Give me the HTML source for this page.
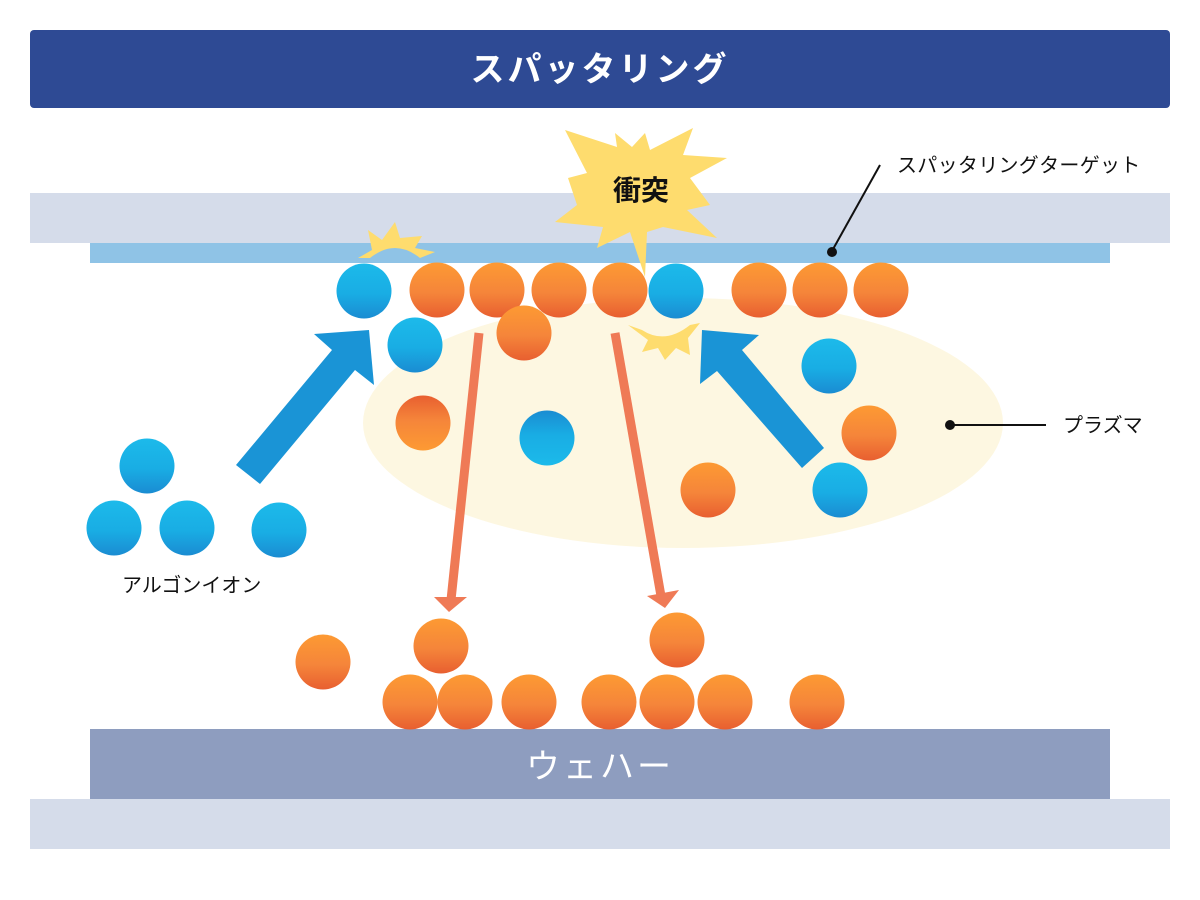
<!DOCTYPE html>
<html><head><meta charset="utf-8"><style>
body{margin:0;background:#fff}
svg{display:block}
text{font-family:"Liberation Sans","Noto Sans CJK JP",sans-serif}
</style></head><body>
<svg width="1200" height="900" viewBox="0 0 1200 900" xmlns="http://www.w3.org/2000/svg">
<defs>
<linearGradient id="o" x1="0" y1="0" x2="0" y2="1"><stop offset="0" stop-color="#fd9a33"/><stop offset="0.55" stop-color="#f5853a"/><stop offset="1" stop-color="#e85f30"/></linearGradient>
<linearGradient id="b" x1="0" y1="0" x2="0" y2="1"><stop offset="0" stop-color="#1cbaea"/><stop offset="0.55" stop-color="#19ade4"/><stop offset="1" stop-color="#1a8cd2"/></linearGradient>
</defs>
<rect x="30" y="30" width="1140" height="78" rx="4" fill="#2e4a94"/>
<text x="600" y="81" font-size="34" font-weight="bold" fill="#fff" text-anchor="middle" letter-spacing="3">スパッタリング</text>
<rect x="30" y="193" width="1140" height="50" fill="#d5dcea"/>
<rect x="90" y="243" width="1020" height="20" fill="#8fc3e6"/>
<rect x="90" y="729" width="1020" height="70" fill="#8e9dbf"/>
<text x="600" y="778" font-size="34" fill="#fff" text-anchor="middle" letter-spacing="3">ウェハー</text>
<rect x="30" y="799" width="1140" height="50" fill="#d5dcea"/>
<ellipse cx="683" cy="423" rx="320" ry="125" fill="#fdf7e1"/>
<polygon fill="#fedc6e" points="565,130 617,147 615,133 632,147 645,133 650,150 693,128 683,155 727,158 690,178 710,205 687,210 717,238 663,227 647,232 645,277 630,232 597,248 603,227 555,222 577,205 568,178 587,173"/>
<text x="641" y="200" font-size="28" font-weight="bold" fill="#111" text-anchor="middle">衝突</text>
<path fill="#fedc6e" d="M358,258 L372,250 L368,230 L382,240 L395,222 L400,238 L422,236 L415,248 L435,252 L420,258 Q395,238 370,258 Z"/>
<path fill="#fedc6e" d="M628,325 L642,330 Q665,345 690,325 L700,323 L688,338 L690,355 L676,348 L665,360 L658,348 L642,352 L648,340 Z"/>
<g fill="url(#o)">
<circle cx="437" cy="290" r="27.5"/><circle cx="497" cy="290" r="27.5"/><circle cx="559" cy="290" r="27.5"/><circle cx="620" cy="290" r="27.5"/>
<circle cx="759" cy="290" r="27.5"/><circle cx="820" cy="290" r="27.5"/><circle cx="881" cy="290" r="27.5"/>
<circle cx="524" cy="333" r="27.5"/><circle cx="869" cy="433" r="27.5"/><circle cx="708" cy="490" r="27.5"/>
<circle cx="441" cy="646" r="27.5"/><circle cx="323" cy="662" r="27.5"/><circle cx="677" cy="640" r="27.5"/>
<circle cx="410" cy="702" r="27.5"/><circle cx="465" cy="702" r="27.5"/><circle cx="529" cy="702" r="27.5"/><circle cx="609" cy="702" r="27.5"/><circle cx="667" cy="702" r="27.5"/><circle cx="725" cy="702" r="27.5"/><circle cx="817" cy="702" r="27.5"/>
</g>
<circle cx="423" cy="423" r="27.5" fill="url(#o)" transform="rotate(180 423 423)"/>
<g fill="url(#b)">
<circle cx="364" cy="291" r="27.5"/><circle cx="676" cy="291" r="27.5"/><circle cx="415" cy="345" r="27.5"/>
<circle cx="829" cy="366" r="27.5"/><circle cx="840" cy="490" r="27.5"/>
<circle cx="147" cy="466" r="27.5"/><circle cx="114" cy="528" r="27.5"/><circle cx="187" cy="528" r="27.5"/><circle cx="279" cy="530" r="27.5"/>
</g>
<circle cx="547" cy="438" r="27.5" fill="url(#b)" transform="rotate(180 547 438)"/>
<polygon fill="#1a94d6" points="236,465 332,350 314,334 369,330 374,385 355,370 260,484"/>
<polygon fill="#1a94d6" points="824,448 742,350 759,335 702,330 700,384 717,371 802,468"/>
<g fill="#ef7a56" stroke="#ef7a56">
<line x1="479" y1="333" x2="451" y2="600" stroke-width="9"/>
<polygon points="434,597 467,597 449,612" stroke="none"/>
<line x1="615" y1="333" x2="661" y2="596" stroke-width="9"/>
<polygon points="647,596 679,590 665,608" stroke="none"/>
</g>
<line x1="880" y1="165" x2="832" y2="251" stroke="#111" stroke-width="2"/>
<circle cx="832" cy="252" r="5" fill="#111"/>
<text x="897" y="172" font-size="20" fill="#111" letter-spacing="0.3">スパッタリングターゲット</text>
<line x1="950" y1="425" x2="1046" y2="425" stroke="#111" stroke-width="2"/>
<circle cx="950" cy="425" r="5" fill="#111"/>
<text x="1063" y="432" font-size="20" fill="#111">プラズマ</text>
<text x="122" y="592" font-size="20" fill="#111">アルゴンイオン</text>
</svg>
</body></html>
